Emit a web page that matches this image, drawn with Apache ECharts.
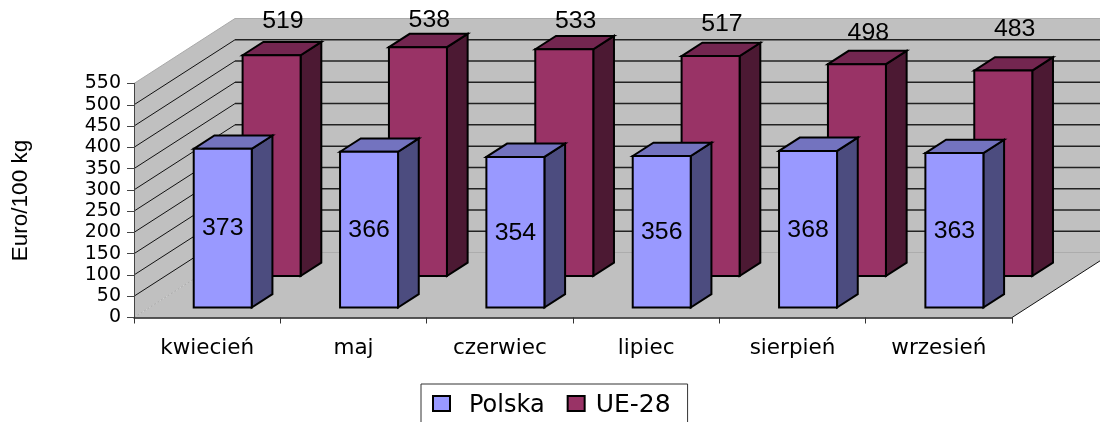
<!DOCTYPE html>
<html>
<head>
<meta charset="utf-8">
<style>
  html, body { margin: 0; padding: 0; background: #fff; overflow: hidden; }
  #chart { width: 1100px; height: 422px; }
</style>
</head>
<body>
<div id="chart"></div>
<script src="https://cdn.jsdelivr.net/npm/echarts@6/dist/echarts.min.js"></script>
<script>
const months = ['kwiecień', 'maj', 'czerwiec', 'lipiec', 'sierpień', 'wrzesień']
const polska = [373, 366, 354, 356, 368, 363]
const ue28 = [519, 538, 533, 517, 498, 483]
const yTicks = [0, 50, 100, 150, 200, 250, 300, 350, 400, 450, 500, 550]

// fake 3D: how far the back wall sits from the front plane
const DEPTH_X = 101
const DEPTH_Y = 65
const BAR_HALF = 29
const BAR_DEPTH = 0.205
const UE_LABEL_GAP = [20, 13, 14, 18, 17, 28]

function leftEdge(api) {
  return api.coord([0, 0])[0] - api.size([1, 0])[0] / 2
}

function rightEdge(api) {
  return leftEdge(api) + api.size([1, 0])[0] * months.length
}

function renderWall(params, api) {
  const x0 = leftEdge(api)
  const x1 = rightEdge(api)
  const y0 = api.coord([0, 0])[1]
  const yTop = api.coord([0, 550])[1]
  const poly = (points) => ({
    type: 'polygon',
    shape: { points },
    style: { fill: '#c0c0c0' }
  })
  return {
    type: 'group',
    children: [
      // left wall
      poly([[x0, y0], [x0, yTop], [x0 + DEPTH_X, yTop - DEPTH_Y], [x0 + DEPTH_X, y0 - DEPTH_Y]]),
      // back wall
      poly([[x0 + DEPTH_X, y0 - DEPTH_Y], [x0 + DEPTH_X, yTop - DEPTH_Y], [x1 + DEPTH_X, yTop - DEPTH_Y], [x1 + DEPTH_X, y0 - DEPTH_Y]]),
      // floor
      poly([[x0, y0], [x0 + DEPTH_X, y0 - DEPTH_Y], [x1 + DEPTH_X, y0 - DEPTH_Y], [x1, y0]]),
      {
        type: 'line',
        shape: { x1: x1, y1: y0, x2: x1 + DEPTH_X, y2: y0 - DEPTH_Y },
        style: { stroke: '#111', lineWidth: 1 }
      }
    ]
  }
}

function renderGridLine(params, api) {
  const val = api.value(1)
  const x0 = leftEdge(api)
  const x1 = rightEdge(api)
  const y = api.coord([0, val])[1]
  const faint = val === 0 || val === 550
  return {
    type: 'group',
    children: [
      {
        type: 'line',
        shape: { x1: x0, y1: y, x2: x0 + DEPTH_X, y2: y - DEPTH_Y },
        style: faint
          ? { stroke: '#aaa', lineWidth: 1, lineDash: val === 0 ? [2, 2] : null }
          : { stroke: '#111', lineWidth: 1 }
      },
      {
        type: 'line',
        shape: { x1: x0 + DEPTH_X, y1: y - DEPTH_Y, x2: x1 + DEPTH_X, y2: y - DEPTH_Y },
        style: { stroke: faint ? '#acacac' : '#222', lineWidth: faint ? 1 : 1.5 }
      }
    ]
  }
}

// one bar = front, top and side faces; depthStart says where it stands on the floor
function makeBarRenderer(depthStart, colors, labelInside) {
  return function (params, api) {
    const idx = api.value(0)
    const val = api.value(1)
    const top = api.coord([idx, val])
    const base = api.coord([idx, 0])
    const dx = DEPTH_X * depthStart
    const dy = DEPTH_Y * depthStart
    const l = top[0] - BAR_HALF + dx
    const r = top[0] + BAR_HALF + dx
    const t = top[1] - dy
    const b = base[1] - dy
    const ox = DEPTH_X * BAR_DEPTH
    const oy = DEPTH_Y * BAR_DEPTH
    const edge = { stroke: '#000', lineWidth: 2, lineJoin: 'miter' }
    return {
      type: 'group',
      children: [
        {
          type: 'polygon',
          shape: { points: [[r, b], [r, t], [r + ox, t - oy], [r + ox, b - oy]] },
          style: Object.assign({ fill: colors[2] }, edge)
        },
        {
          type: 'polygon',
          shape: { points: [[l, t], [l + ox, t - oy], [r + ox, t - oy], [r, t]] },
          style: Object.assign({ fill: colors[1] }, edge)
        },
        {
          type: 'polygon',
          shape: { points: [[l, t], [r, t], [r, b], [l, b]] },
          style: Object.assign({ fill: colors[0] }, edge)
        },
        {
          type: 'text',
          x: labelInside ? (l + r) / 2 : (l + r + ox) / 2 + 1,
          y: labelInside ? (t + b) / 2 + 1 : t - oy - UE_LABEL_GAP[idx],
          scaleX: 1.08,
          z2: 10,
          style: {
            text: String(val),
            x: 0,
            y: 0,
            align: 'center',
            verticalAlign: 'middle',
            fontFamily: 'Liberation Sans',
            fontSize: 23,
            fill: '#000'
          }
        }
      ]
    }
  }
}

const legendText = { fontFamily: 'DejaVu Sans', color: '#000', verticalAlign: 'bottom' }

const chart = echarts.init(document.getElementById('chart'))
chart.setOption({
  animation: false,
  backgroundColor: '#fff',
  grid: { left: 134, right: 88, top: 83.5, bottom: 104.5 },
  xAxis: {
    type: 'category',
    data: months,
    z: 6,
    axisLine: { lineStyle: { color: '#222', width: 1.5 } },
    axisTick: { show: true, alignWithLabel: false, length: 6, lineStyle: { color: '#333', width: 1 } },
    axisLabel: { margin: 20, fontFamily: 'DejaVu Sans', fontSize: 21.5, color: '#000', interval: 0 }
  },
  yAxis: {
    type: 'value',
    min: 0,
    max: 550,
    interval: 50,
    name: 'Euro/100 kg',
    nameLocation: 'middle',
    nameGap: 102,
    nameRotate: 90,
    nameTextStyle: { fontFamily: 'Liberation Sans', fontSize: 22.5, color: '#000' },
    z: 6,
    axisLine: { show: true, lineStyle: { color: '#444', width: 1 } },
    axisTick: { show: true, length: 7, lineStyle: { color: '#444' } },
    axisLabel: { margin: 13, fontFamily: 'DejaVu Sans', fontSize: 19, color: '#000' },
    splitLine: { show: false }
  },
  legend: {
    data: ['Polska', 'UE-28'],
    left: 421,
    top: 384,
    padding: [9, 17, 20, 11],
    icon: 'rect',
    itemWidth: 17,
    itemHeight: 15,
    itemGap: 22,
    borderColor: '#333',
    borderWidth: 1,
    backgroundColor: '#fff',
    formatter: name => (name === 'Polska' ? `{a|${name}}` : `{b|${name}}`),
    textStyle: {
      rich: {
        a: Object.assign({ padding: [4, 0, 0, 14], fontSize: 24 }, legendText),
        b: Object.assign({ padding: [4, 0, 0, 6], fontSize: 25 }, legendText)
      }
    }
  },
  series: [
    {
      type: 'custom',
      name: 'wall',
      z: 1,
      silent: true,
      data: [[0, 0]],
      encode: { x: 0, y: 1 },
      renderItem: renderWall
    },
    {
      type: 'custom',
      name: 'gridlines',
      z: 2,
      silent: true,
      data: yTicks.map(v => [0, v]),
      encode: { x: 0, y: 1 },
      renderItem: renderGridLine
    },
    {
      type: 'custom',
      name: 'UE-28',
      z: 3,
      data: ue28.map((v, i) => [i, v]),
      encode: { x: 0, y: 1 },
      itemStyle: { color: '#993366', borderColor: '#000', borderWidth: 2 },
      renderItem: makeBarRenderer(0.638, ['#993366', '#732650', '#4c1933'], false)
    },
    {
      type: 'custom',
      name: 'Polska',
      z: 4,
      data: polska.map((v, i) => [i, v]),
      encode: { x: 0, y: 1 },
      itemStyle: { color: '#9999ff', borderColor: '#000', borderWidth: 2 },
      renderItem: makeBarRenderer(0.154, ['#9999ff', '#7373bf', '#4c4c7f'], true)
    }
  ]
})
</script>
</body>
</html>
